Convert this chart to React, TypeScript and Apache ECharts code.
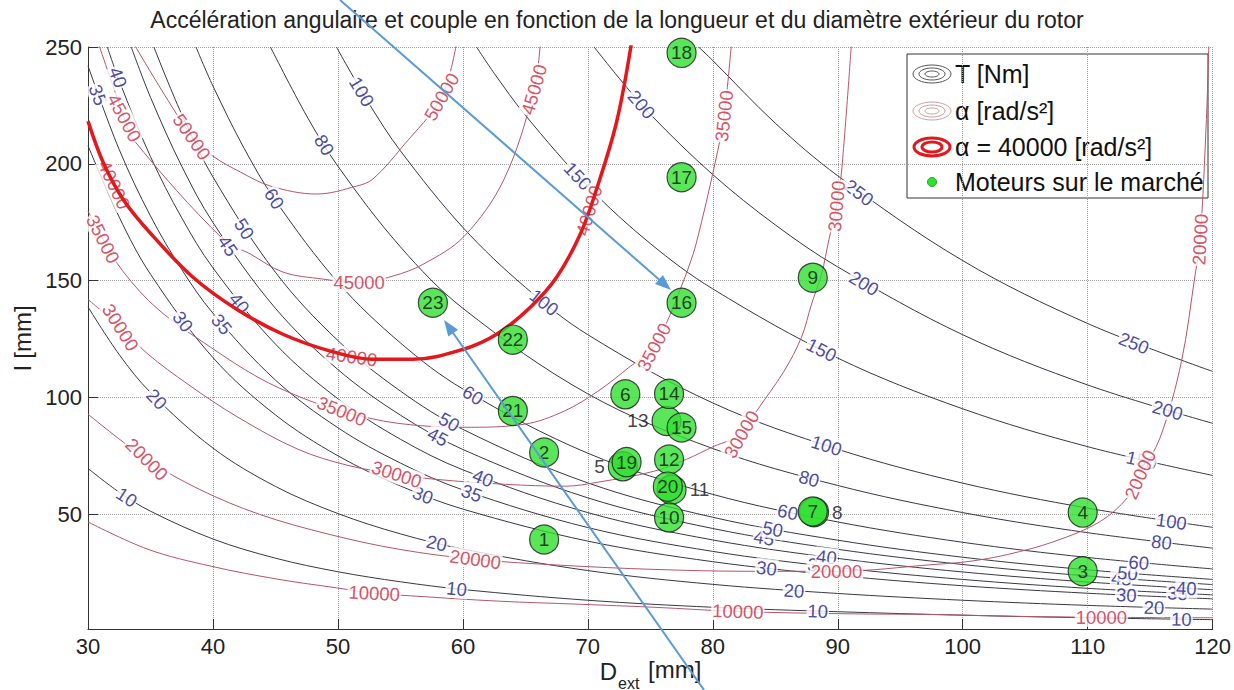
import React, { useEffect, useRef } from "react";
import * as echarts from "echarts";

const FONT = "'Liberation Sans', Arial, Helvetica, sans-serif";
const TITLE = "Accélération angulaire et couple en fonction de la longueur et du diamètre extérieur du rotor";

const xMin = 30, xMax = 120, xStep = 10;
const yMin = 1, yMax = 250;

// Torque contours T [Nm] : [D_ext, l]
const T10 = [[30,69.7],[32.5,59.5],[35,51.4],[40,39.5],[45,31.3],[50,25.5],[55,21.2],[60,17.9],[70,13.3],[80,10.3],[90,8.4],[100,6.9],[110,5.8],[120,5.0]];
const T20 = [[30,138.8],[32.5,118.4],[35,102.2],[40,78.4],[45,62.0],[50,50.4],[55,41.7],[60,35.2],[70,26.0],[80,20.1],[90,16.2],[100,13.3],[110,11.1],[120,9.5]];
const T30 = [[30,207.8],[32.5,177.2],[35,152.8],[40,117.1],[45,92.6],[50,75.1],[55,62.2],[60,52.3],[70,38.6],[80,29.8],[90,23.9],[100,19.5],[110,16.3],[120,13.9]];
const T35 = [[30,241.9],[32.5,206.1],[35,177.7],[37.5,154.8],[40,136.1],[45,107.5],[50,87.1],[55,72.0],[60,60.5],[70,44.4],[80,34.2],[90,27.3],[100,22.2],[110,18.4],[120,15.6]];
const T40 = [[31.55,250],[32.5,235.5],[35,203.1],[37.5,176.9],[40,155.5],[45,122.9],[50,99.5],[55,82.2],[60,69.1],[70,50.8],[80,39.1],[90,31.2],[100,25.4],[110,21.1],[120,17.8]];
const T45 = [[33.46,250],[35,228.5],[37.5,199.0],[40,174.9],[45,138.2],[50,112.0],[55,92.5],[60,77.8],[70,57.1],[80,44.0],[90,35.1],[100,28.6],[110,23.7],[120,20.0]];
const T50 = [[35.27,250],[37.5,221.2],[40,194.4],[45,153.6],[50,124.4],[55,102.8],[60,86.4],[70,63.5],[80,48.8],[90,39.0],[100,31.7],[110,26.3],[120,22.2]];
const T60 = [[38.64,250],[40,233.3],[42.5,206.6],[45,184.3],[50,149.3],[55,123.4],[60,103.7],[70,76.2],[80,58.6],[90,46.8],[100,38.1],[110,31.6],[120,26.7]];
const T80 = [[44.6,250],[47.5,220.5],[50,199.0],[55,164.5],[60,138.2],[70,101.6],[80,78.2],[90,62.4],[100,50.8],[110,42.2],[120,35.6]];
const T100 = [[49.88,250],[52.5,225.7],[55,205.6],[60,172.8],[65,147.2],[70,126.9],[80,97.7],[90,77.9],[100,63.4],[110,52.7],[120,44.5]];
const T150 = [[61.09,250],[62.5,238.8],[65,220.8],[70,190.4],[75,165.9],[80,146.5],[90,116.9],[100,95.2],[110,79.0],[120,66.7]];
const T200 = [[70.5,250],[72.5,236.7],[75,221.2],[80,195.4],[85,173.9],[90,155.9],[100,126.9],[110,105.4],[120,89.0]];
const T250 = [[78.87,250],[80,244.2],[85,217.4],[90,194.9],[100,158.6],[110,131.7],[120,111.2]];
const T_LINES = [T10, T20, T30, T35, T40, T45, T50, T60, T80, T100, T150, T200, T250];

// Angular acceleration contours alpha [rad/s^2]
const A10000 = [[30,46.8],[34.8,35.1],[39.9,27.8],[45.2,22.3],[49.9,18.6],[52.9,16.3],[55.8,15.2],[62.9,12.9],[69.3,11.6],[75.3,10.3],[82,8.5],[90.9,7.5],[97.7,7.2],[104.5,6.4],[111.1,6.0],[120,5.8]];
const A20000 = [[30,92.9],[34.7,73.6],[38.9,60.8],[43.7,50.1],[49.3,41.5],[54.9,35.1],[61,30.8],[67.8,28.3],[75.3,26.5],[82.9,25.7],[89.9,25.7],[97.7,28.6],[100.5,29.9],[103.6,32.9],[107.3,38.4],[111,47],[113.2,57.3],[114.2,67.1],[115.8,82.9],[117.5,115.4],[118.6,152.7],[119,167.6],[119.5,219],[119.7,252]];
const A30000 = [[30,142],[32.6,130],[34.8,118.6],[38,105.7],[42,91.6],[46.8,77.9],[50.8,71],[54.7,67.2],[57.7,65.1],[63.4,62.9],[68.2,62.1],[70.8,63.8],[75.3,68.5],[77.9,73.6],[80.1,79.2],[82.3,84.3],[83.5,94.2],[85.7,111.3],[87.1,125.9],[87.9,140],[88.7,152.8],[89.3,167.8],[89.9,181.9],[90.3,196.5],[91.1,252]];
const A35000 = [[30,179.8],[31.2,167.8],[32.8,154],[35.6,137.8],[39.8,121.6],[43.6,108.7],[47,100.2],[50.3,94.2],[54.8,89],[60.1,87.3],[64.9,88.6],[68.1,94.2],[70.8,102.7],[73.4,113.4],[75.3,121.6],[76.5,134.4],[77.4,146.4],[78.1,156.3],[78.7,166.5],[80.2,200.8],[80.9,220.5],[81.5,252]];
const A45000 = [[30.8,252],[32.9,219.7],[33.6,210.6],[40.8,167.8],[43,161.4],[45.6,153.7],[48.8,150.7],[51.7,149.2],[54.4,152],[56.8,157],[60.1,169],[63.3,193.5],[65.7,231.8],[66.2,252]];
const A50000 = [[33.6,252],[38.3,211.6],[40,203.3],[42.2,196.5],[44.6,190.5],[48.3,187.1],[51.5,190.5],[52.8,193.5],[55.2,207.6],[58.3,228.7],[59.5,252]];
const A40000 = [[30,218.3],[31.2,200.8],[32.8,184.9],[35.05,170],[38.4,151.5],[41.9,137.8],[45.6,127.1],[49.4,119.9],[52.8,116.4],[56,116.4],[60.05,120.7],[62.7,127.1],[65.4,138.7],[67.5,151.5],[69.4,170],[70.7,189.2],[72.3,217.9],[73.5,252]];
const A_LINES = [A10000, A20000, A30000, A35000, A45000, A50000];

// Inline contour labels: [D, l, text, rotation]
const T_LABELS = [
  [33.1,57.4,"10",-33],[59.5,18.2,"10",-6],[88.4,8.6,"10",-2],[117.5,5.2,"10",-1],
  [35.5,99.3,"20",-46],[57.9,37.7,"20",-13],[86.5,17.4,"20",-4],[115.3,10.2,"20",-2],
  [37.6,132.5,"30",-53],[56.8,58.3,"30",-21],[84.3,27,"30",-7],[113.1,15.5,"30",-3],
  [30.8,229.5,"35",-70],[40.7,131.4,"35",-50],[60.7,59.1,"35",-20],[88.4,28.3,"35",-7],[117.2,16.3,"35",-3],
  [32.4,237,"40",-70],[42.1,140.4,"40",-51],[61.6,65.6,"40",-22],[89.1,31.8,"40",-7],[117.9,18.4,"40",-3],
  [41.2,164.9,"45",-56],[58,83.2,"45",-28],[84.1,40,"45",-10],[112.7,22.6,"45",-4],
  [42.5,172.2,"50",-57],[58.9,89.6,"50",-30],[84.8,43.7,"50",-11],[113.2,24.9,"50",-5],
  [44.9,185.1,"60",-57],[60.8,101,"60",-32],[86,51,"60",-12],[114.1,29.4,"60",-5],
  [48.9,208.1,"80",-58],[87.7,65.3,"80",-15],[115.9,38.1,"80",-7],
  [51.9,230.9,"100",-59],[66.5,140.7,"100",-38],[89.1,79.5,"100",-18],[116.7,47,"100",-8],
  [69.2,194.8,"150",-47],[88.7,120.4,"150",-27],[114.3,73.2,"150",-13],
  [74.3,225.4,"200",-49],[92.1,148.9,"200",-31],[116.4,94.6,"200",-16],
  [91.7,187.7,"250",-37],[113.7,123.3,"250",-22],
];
const A_LABELS = [
  [32.9,219.7,"45000",-62],[51.7,149.2,"45000",0],[65.7,231.8,"45000",74],
  [38.3,211.6,"50000",-55],[58.3,228.7,"50000",60],
  [32.1,191,"40000",-65],[51.1,117.5,"40000",-8],[70.1,180,"40000",73],
  [31.2,167.8,"35000",-63],[50.3,94.2,"35000",-22],[75.3,121.6,"35000",62],[80.9,220.5,"35000",84],
  [32.6,130,"30000",-58],[54.7,67.2,"30000",-18],[82.3,84.3,"30000",60],[89.9,181.9,"30000",85],
  [34.7,73.6,"20000",-45],[61,30.8,"20000",-8],[89.9,25.7,"20000",0],[114.2,67.1,"20000",66],[119,167.6,"20000",87],
  [52.9,16.3,"10000",-3],[82,8.5,"10000",-2],[111.1,6.0,"10000",0],
];

// Motors on the market: [D, l, number]
const MOTORS_BEHIND = [[72.8,70.6,"5","left"],[76.3,90,"13","left"],[76.7,60.6,"11","right"],[88.1,51.0,"8","right"]];
const MOTORS = [
  [66.5,39.3,"1"],[66.5,76.5,"2"],[109.6,25.7,"3"],[109.6,50.8,"4"],[73.0,101.4,"6"],[88.0,51.3,"7"],
  [88.0,151.3,"9"],[76.5,48.7,"10"],[76.5,73.5,"12"],[76.5,101.6,"14"],[77.5,87.2,"15"],[77.5,140.6,"16"],
  [77.5,194.3,"17"],[77.5,247.5,"18"],[73.1,72.4,"19"],[76.4,61.9,"20"],[64.0,94.3,"21"],[64.0,124.8,"22"],[57.6,140.6,"23"],
];

// Blue annotation arrows (page pixels): [x1, y1, x2(tip), y2(tip)]
const ARROWS = [[340,0,671,290],[704,690,444,320]];

const LEGEND_ITEMS = ["T [Nm]", "α [rad/s²]", "α = 40000 [rad/s²]", "Moteurs sur le marché"];

function arrowGraphics(a: number[]) {
  const [x1, y1, x2, y2] = a;
  const ang = Math.atan2(y2 - y1, x2 - x1);
  const len = 16, half = 6;
  const bx = x2 - len * Math.cos(ang), by = y2 - len * Math.sin(ang);
  const px = -Math.sin(ang) * half, py = Math.cos(ang) * half;
  return [
    { type: "line", z: 100, shape: { x1, y1, x2: bx + 2 * Math.cos(ang), y2: by + 2 * Math.sin(ang) }, style: { stroke: "#5b9bd5", lineWidth: 2 } },
    { type: "polygon", z: 100, shape: { points: [[x2, y2], [bx + px, by + py], [bx - px, by - py]] }, style: { fill: "#5b9bd5" } },
  ];
}

function ellipses(cx: number, cy: number, stroke: string, lw: number, radii: number[][]) {
  return radii.map(([rx, ry]) => ({ type: "ellipse", shape: { cx, cy, rx, ry }, style: { fill: "none", stroke, lineWidth: lw } }));
}

export default function App() {
  const ref = useRef<HTMLDivElement>(null);
  useEffect(() => {
    if (!ref.current) return;
    const chart = echarts.init(ref.current, null, { renderer: "svg" });

    const lineSeries = (data: number[][], color: string, width: number, z: number) => ({
      type: "line", data, showSymbol: false, symbol: "none", smooth: 0.35, silent: true, z,
      lineStyle: { color, width }, clip: true, animation: false,
    });
    const labelSeries = (list: any[], color: string, z: number) => ({
      type: "scatter", symbol: "circle", symbolSize: 0, silent: true, z,
      itemStyle: { color: "transparent" },
      data: list.map(([d, l, t, r]) => ({ value: [d, l], name: t, label: { rotate: r } })),
      label: { show: true, position: "inside", formatter: "{b}", color, fontSize: 18.5, fontFamily: FONT, backgroundColor: "#ffffff", padding: [0, 1] },
    });

    const series: any[] = [];
    T_LINES.forEach((d) => series.push(lineSeries(d, "#383844", 1, 2)));
    A_LINES.forEach((d) => series.push(lineSeries(d, "#b4566a", 1, 3)));
    series.push(labelSeries(T_LABELS, "#1a1a8a", 4));
    series.push(labelSeries(A_LABELS, "#c8283e", 4));
    series.push(lineSeries(A40000, "#e3171c", 3.5, 5));
    series.push({
      type: "scatter", symbolSize: 29, z: 6, silent: true,
      itemStyle: { color: "#2fe02f", borderColor: "#1a1a1a", borderWidth: 1.2 },
      data: MOTORS_BEHIND.map(([d, l, n, p]) => ({ value: [d, l], name: n, label: { position: p } })),
      label: { show: true, formatter: "{b}", color: "#111", fontSize: 19, fontFamily: FONT, distance: 3 },
    });
    series.push({
      type: "scatter", symbolSize: 29, z: 7, silent: true,
      itemStyle: { color: "#2fe02f", borderColor: "#1a1a1a", borderWidth: 1.2 },
      data: MOTORS.map(([d, l, n]) => ({ value: [d, l], name: n })),
      label: { show: true, position: "inside", formatter: "{b}", color: "#111", fontSize: 19, fontFamily: FONT },
    });

    const legendX = 907, legendY = 54, legendW = 301, legendH = 144;
    const rowsY = [74, 111, 147, 182];
    const iconX = 932;
    const graphic: any[] = [
      { type: "text", left: "center", top: 8, style: { text: TITLE, font: `23px ${FONT}`, fill: "#222" } },
      { type: "text", x: 617, y: 671, style: { text: "D", font: `24px ${FONT}`, fill: "#222", textAlign: "right", textVerticalAlign: "middle" } },
      { type: "text", x: 618, y: 683, style: { text: "ext", font: `16px ${FONT}`, fill: "#222", textAlign: "left", textVerticalAlign: "middle" } },
      { type: "text", x: 648, y: 669, style: { text: "[mm]", font: `24px ${FONT}`, fill: "#222", textAlign: "left", textVerticalAlign: "middle" } },
      { type: "text", x: 22, y: 338, rotation: Math.PI / 2, style: { text: "l [mm]", font: `24px ${FONT}`, fill: "#222", textAlign: "center", textVerticalAlign: "middle" } },
      {
        type: "group", z: 50,
        children: [
          { type: "rect", shape: { x: legendX, y: legendY, width: legendW, height: legendH }, style: { fill: "#fff", stroke: "#333", lineWidth: 1 } },
          ...ellipses(iconX, rowsY[0], "#555", 1, [[19, 9], [13, 6], [7, 3]]),
          ...ellipses(iconX, rowsY[1], "#c9a0a4", 1, [[19, 9], [13, 6], [7, 3]]),
          ...ellipses(iconX, rowsY[2], "#e3171c", 3, [[18, 9], [10, 5]]),
          { type: "circle", shape: { cx: iconX, cy: rowsY[3], r: 4.5 }, style: { fill: "#2fe02f", stroke: "#22aa22", lineWidth: 1 } },
          ...LEGEND_ITEMS.map((t, i) => ({ type: "text", x: 955, y: rowsY[i], style: { text: t, font: `25px ${FONT}`, fill: "#111", textAlign: "left", textVerticalAlign: "middle" } })),
        ],
      },
      ...ARROWS.flatMap((a) => arrowGraphics(a)),
    ];

    const axisCommon = {
      type: "value",
      axisLine: { show: true, onZero: false, lineStyle: { color: "#333", width: 1 } },
      axisTick: { show: true, inside: true, length: 10, lineStyle: { color: "#333" } },
      splitLine: { show: true, lineStyle: { type: "dotted", color: "#a0a0a0", width: 1 } },
    };

    chart.setOption({
      animation: false,
      backgroundColor: "#ffffff",
      grid: { left: 88, right: 21, top: 47, bottom: 61, containLabel: false },
      xAxis: {
        ...axisCommon, min: xMin, max: xMax, interval: xStep,
        axisLabel: { color: "#222", fontSize: 22, fontFamily: FONT, margin: 6 },
      },
      yAxis: {
        ...axisCommon, min: yMin, max: yMax,
        axisLabel: { color: "#222", fontSize: 22, fontFamily: FONT, margin: 6, formatter: (v: number) => (v % 50 === 0 ? String(v) : "") },
      },
      series,
      graphic,
    });
    return () => chart.dispose();
  }, []);
  return <div ref={ref} style={{ position: "absolute", left: 0, top: 0, width: 1234, height: 690 }} />;
}
